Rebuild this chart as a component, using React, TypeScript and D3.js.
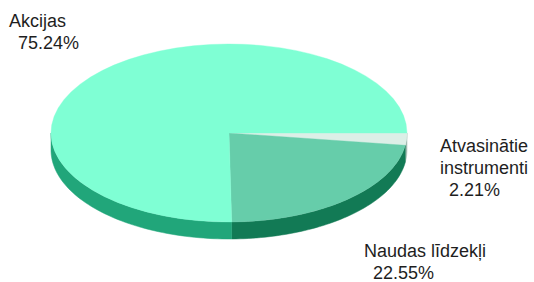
import React, { useRef, useEffect } from "react";
import * as d3 from "d3";

// slice order: clockwise from 3 o'clock
const categories = ["Atvasinātie instrumenti", "Naudas līdzekļi", "Akcijas"];
const shares = [2.21, 22.55, 75.24];
const labelLines = [
  ["Atvasinātie", "instrumenti"],
  ["Naudas līdzekļi"],
  ["Akcijas"],
];
const topColors = ["#dcefe7", "#66cdaa", "#7fffd4"];
const sideColors = ["#9fb8ae", "#127a55", "#21a67a"];

const width = 534;
const height = 282;
const cx = 229;
const cy = 133;
const rx = 178;
const ry = 89;
const depth = 17;

// where each label block starts (x, first baseline)
const labelAnchors: [number, number][] = [
  [440, 152],
  [364, 257],
  [9, 27],
];

const PieChart3D = () => {
  const ref = useRef<SVGSVGElement>(null);

  useEffect(() => {
    const svg = d3.select(ref.current);
    svg.selectAll("*").remove();

    const data = categories.map((c, i) => ({ label: c, value: shares[i], i }));
    const pie = d3
      .pie<any>()
      .sort(null)
      .value((d) => d.value)
      .startAngle(Math.PI / 2)
      .endAngle(Math.PI / 2 + 2 * Math.PI);
    const arcs = pie(data);

    const pt = (a: number, dy = 0): [number, number] => [
      cx + rx * Math.sin(a),
      cy - ry * Math.cos(a) + dy,
    ];
    const line = d3.line();

    // side walls, only the front half (a in [pi/2, 3pi/2]) is visible
    const sides = svg.append("g");
    arcs.forEach((d) => {
      const a0 = Math.max(d.startAngle, Math.PI / 2);
      const a1 = Math.min(d.endAngle, (3 * Math.PI) / 2);
      if (a1 <= a0) return;
      const steps = d3.range(0, 61).map((k) => a0 + ((a1 - a0) * k) / 60);
      const pts = steps.map((a) => pt(a)).concat(steps.slice().reverse().map((a) => pt(a, depth)));
      sides
        .append("path")
        .attr("d", line(pts) + "Z")
        .attr("fill", sideColors[d.data.i])
        .attr("stroke", sideColors[d.data.i])
        .attr("stroke-width", 0.5);
    });

    // top faces
    const arc = d3.arc<any>().innerRadius(0).outerRadius(rx);
    svg
      .append("g")
      .attr("transform", `translate(${cx},${cy}) scale(1,${ry / rx})`)
      .selectAll("path")
      .data(arcs)
      .enter()
      .append("path")
      .attr("d", arc)
      .attr("fill", (d) => topColors[d.data.i])
      .attr("stroke", (d) => topColors[d.data.i])
      .attr("stroke-width", 0.5);

    // labels: name lines, then the share indented a little
    const labels = svg
      .append("g")
      .attr("font-family", "'Liberation Sans', Arial, sans-serif")
      .attr("font-size", 18)
      .attr("fill", "#1e1e1e");
    arcs.forEach((d) => {
      const [x, y] = labelAnchors[d.data.i];
      const lines = labelLines[d.data.i];
      const t = labels.append("text");
      lines.forEach((s, k) => {
        t.append("tspan").attr("x", x).attr("y", y + k * 21.5).text(s);
      });
      t.append("tspan")
        .attr("x", x + 9)
        .attr("y", y + lines.length * 22)
        .text(d3.format(".2f")(d.data.value) + "%");
    });
  }, []);

  return (
    <svg
      ref={ref}
      width={width}
      height={height}
      style={{ position: "absolute", left: 0, top: 0, background: "#fff" }}
    />
  );
};

export default function App() {
  return <PieChart3D />;
}
